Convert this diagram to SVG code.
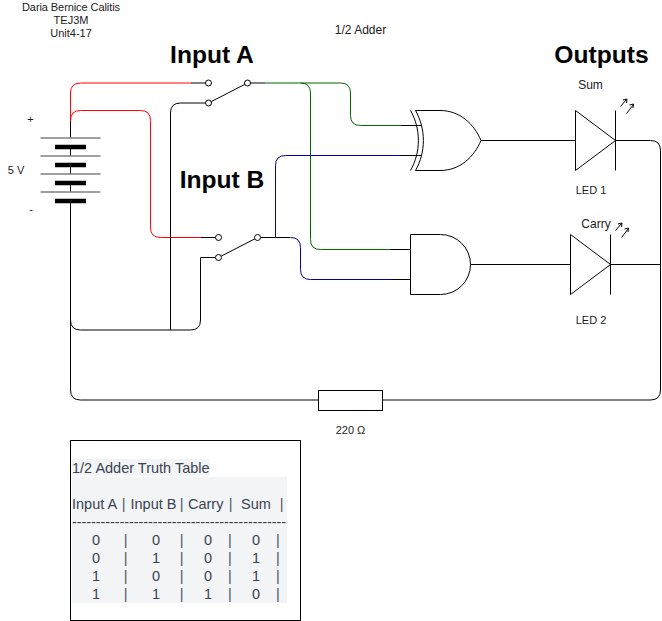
<svg xmlns="http://www.w3.org/2000/svg" width="662" height="621" viewBox="0 0 662 621">
<style>
text{font-family:"Liberation Sans",Arial,sans-serif;fill:#1a1a1a;font-size:11px;text-anchor:middle}
.h{font-size:24.600px;font-weight:bold;fill:#000}
.m{font-size:12px}
.w{fill:none;stroke:#000;stroke-width:1}
.s{fill:#fff;stroke:#000;stroke-width:1}
.r{fill:none;stroke:#f00;stroke-width:1}
.g{fill:none;stroke:#006600;stroke-width:1}
.b{fill:none;stroke:#000099;stroke-width:1}
.t{font-size:14.500px;fill:#374151;text-anchor:start}
.c{font-size:14.500px;fill:#374151}
.bg{fill:#f3f4f6}
.p{font-size:14.500px;fill:#4b5563}
</style>
<defs>
<g id="led"><path class="s" d="M0 0L40 30L0 60Z"/><path class="w" d="M40 0V60"/><path class="w" d="M45 -4L51 -11M47.500 -10.500L51.500 -11.500L51 -7.500M51 3L58 -6M54 -5.500L58 -6.500L57.500 -2.500"/></g>
<g id="sw"><path class="w" d="M0 20L39 0"/><circle class="s" cx="0" cy="0" r="3"/><circle class="s" cx="39" cy="0" r="3"/><circle class="s" cx="0" cy="20" r="3"/></g>
</defs>
<g id="diagram" opacity="0.99">
<g id="connectors">
<path class="r" d="M70.500 121V93Q70.500 83 80.500 83H191"/>
<path class="w" d="M191 83H205.500"/>
<path class="r" d="M70.500 121Q70.500 110.500 80.500 110.500H140.500Q150.500 110.500 150.500 120.500V227.500Q150.500 237.500 160.500 237.500H201"/>
<path class="w" d="M201 237.500H215.500"/>
<path class="w" d="M70.500 121V138M70.500 147V156M70.500 165V174M70.500 183V192M70.500 201V320Q70.500 330 80.500 330H190.500Q200.500 330 200.500 320V257.500H215.500"/>
<path class="w" d="M170.500 330V113Q170.500 103 180.500 103H205.500"/>
<path class="w" d="M70.500 320V390Q70.500 400 80.500 400H318M383 400H650.500Q660.500 400 660.500 390V150.500Q660.500 140.500 650.500 140.500H615.500"/>
<path class="w" d="M610.500 264.500H660.500"/>
<path class="w" d="M250.500 83H265"/>
<path class="g" d="M265 83H340.500Q350.500 83 350.500 93V115.500Q350.500 125.500 360.500 125.500H401"/>
<path class="w" d="M401 125.500H421"/>
<path class="g" d="M300.500 83Q310.500 83 310.500 93V239.500Q310.500 249.500 320.500 249.500H391"/>
<path class="w" d="M391 249.500H410.500"/>
<path class="w" d="M260.500 237.500H290.500"/>
<path class="b" d="M275.500 237.500V165.500Q275.500 155.500 285.500 155.500H401"/>
<path class="w" d="M401 155.500H421"/>
<path class="b" d="M290.500 237.500Q300.500 237.500 300.500 247.500V269.500Q300.500 279.500 310.500 279.500H391"/>
<path class="w" d="M391 279.500H410.500"/>
<path class="w" d="M481 140.500H575.500M470.500 264.500H570.500"/>
</g>
<g id="battery">
<path d="M40.500 138H100.500M40.500 156H100.500M40.500 174H100.500M40.500 192H100.500" fill="none" stroke="#808080" stroke-width="1.500"/>
<path d="M55 147H86M55 165H86M55 183H86M55 201H86" fill="none" stroke="#000" stroke-width="4.500"/>
<text x="30.500" y="123">+</text><text x="31" y="213">-</text><text x="16" y="174">5 V</text>
</g>
<g id="switch-a"><use href="#sw" x="208.500" y="83"/></g>
<g id="switch-b"><use href="#sw" x="218.500" y="237.500"/></g>
<g id="xor-gate">
<path class="s" d="M415.500 110.500H440C460 110.500 474 124 481 140.500C474 157 460 170.500 440 170.500H415.500C426 152 426 129 415.500 110.500Z"/>
<path class="w" d="M410.500 110.500C421 129 421 152 410.500 170.500"/>
</g>
<g id="and-gate"><path class="s" d="M410.500 234.500H440.500A30 30 0 0 1 440.500 294.500H410.500Z"/></g>
<g id="led-1"><use href="#led" x="575.500" y="110.500"/></g>
<g id="led-2"><use href="#led" x="570.500" y="234.500"/></g>
<g id="resistor"><rect class="s" x="318.500" y="390.500" width="64" height="20"/></g>
<g id="labels">
<text x="71" y="11" textLength="98">Daria Bernice Calitis</text>
<text x="71" y="24">TEJ3M</text>
<text x="71" y="37">Unit4-17</text>
<text class="m" x="360.500" y="34">1/2 Adder</text>
<text class="h" x="212" y="63">Input A</text>
<text class="h" x="222" y="188">Input B</text>
<text class="h" x="601.500" y="63">Outputs</text>
<text class="m" x="590.500" y="89">Sum</text>
<text class="m" x="596" y="228">Carry</text>
<text x="591" y="194">LED 1</text>
<text x="591" y="324">LED 2</text>
<text x="350.500" y="434">220 Ω</text>
</g>
<g id="truth-table">
<rect x="70.500" y="440.500" width="230" height="180" fill="#fff" stroke="#000"/>
<rect class="bg" x="72" y="459" width="138" height="17"/>
<rect class="bg" x="72" y="477" width="215" height="126"/>
<text class="t" x="72" y="473">1/2 Adder Truth Table</text>
<text class="t" x="72" y="509">Input A</text>
<text class="p" x="123.600" y="509">|</text>
<text class="t" x="130.500" y="509">Input B</text>
<text class="p" x="181.700" y="509">|</text>
<text class="t" x="188" y="509">Carry</text>
<text class="p" x="230.700" y="509">|</text>
<text class="c" x="256" y="509">Sum</text>
<text class="p" x="281.700" y="509">|</text>
<text class="t" x="72" y="527" textLength="214">---------------------------------------------</text>
<g>
<text class="c" x="96" y="545">0</text><text class="c" x="156" y="545">0</text><text class="c" x="208" y="545">0</text><text class="c" x="256" y="545">0</text>
<text class="c" x="96" y="563">0</text><text class="c" x="156" y="563">1</text><text class="c" x="208" y="563">0</text><text class="c" x="256" y="563">1</text>
<text class="c" x="96" y="581">1</text><text class="c" x="156" y="581">0</text><text class="c" x="208" y="581">0</text><text class="c" x="256" y="581">1</text>
<text class="c" x="96" y="599">1</text><text class="c" x="156" y="599">1</text><text class="c" x="208" y="599">1</text><text class="c" x="256" y="599">0</text>
</g>
<g>
<text class="p" x="125.700" y="545">|</text><text class="p" x="181.700" y="545">|</text><text class="p" x="230" y="545">|</text><text class="p" x="278" y="545">|</text>
<text class="p" x="125.700" y="563">|</text><text class="p" x="181.700" y="563">|</text><text class="p" x="230" y="563">|</text><text class="p" x="278" y="563">|</text>
<text class="p" x="125.700" y="581">|</text><text class="p" x="181.700" y="581">|</text><text class="p" x="230" y="581">|</text><text class="p" x="278" y="581">|</text>
<text class="p" x="125.700" y="599">|</text><text class="p" x="181.700" y="599">|</text><text class="p" x="230" y="599">|</text><text class="p" x="278" y="599">|</text>
</g>
</g>
</g>
</svg>
